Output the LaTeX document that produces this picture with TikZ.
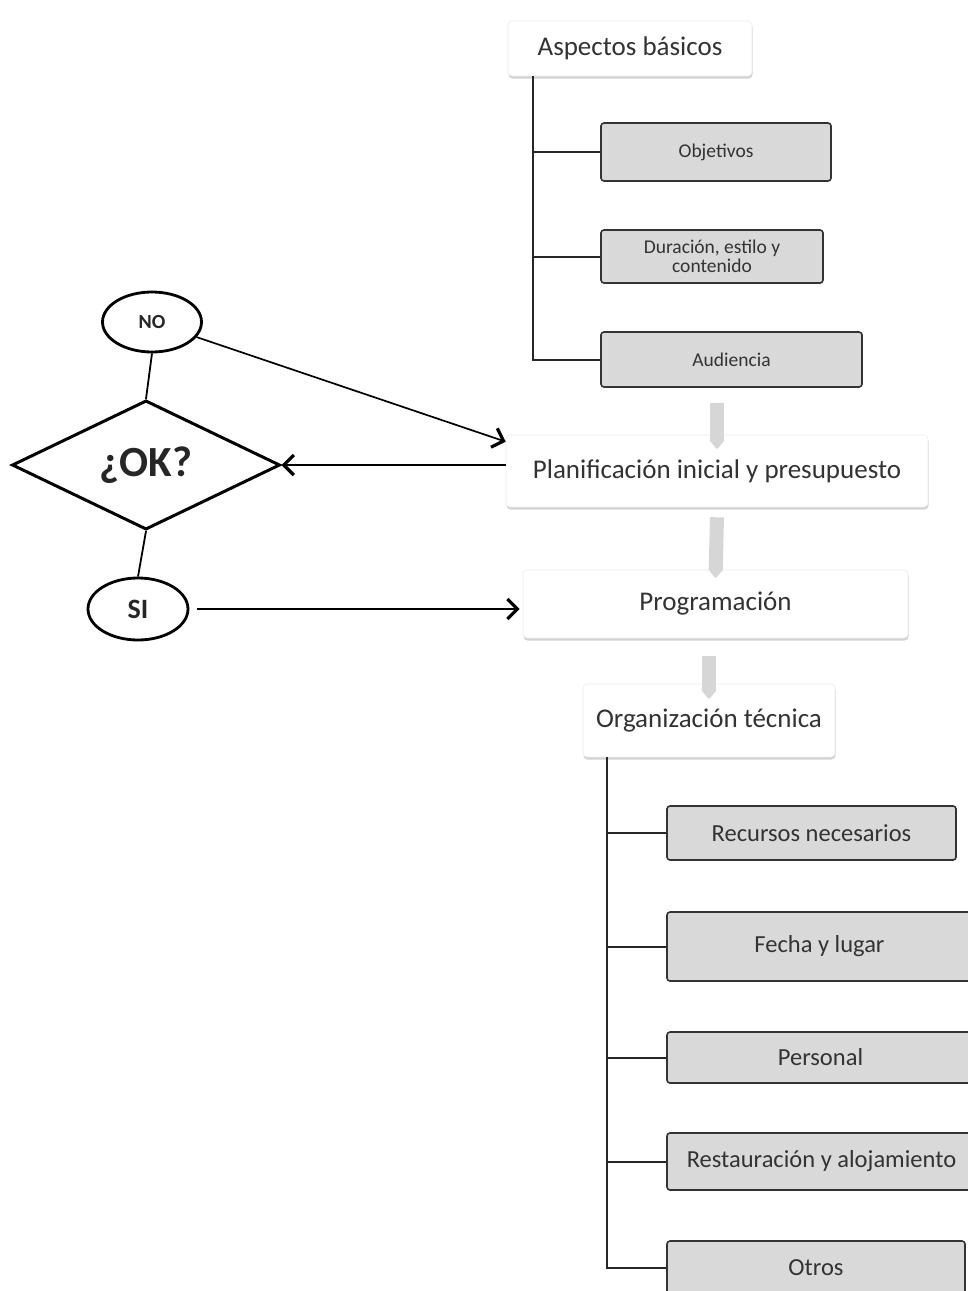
\documentclass[tikz,border=0pt]{standalone}
\usepackage{fontspec}
\setmainfont{Carlito}
\usetikzlibrary{shapes.geometric,arrows.meta,shadows}
\definecolor{boxgray}{HTML}{D9D9D9}
\definecolor{txt}{HTML}{333333}
\begin{document}
\begin{tikzpicture}[x=1pt,y=-1pt,
  mainbox/.style={draw=gray!15, fill=white, rounded corners=4pt, line width=0.6pt, text=txt,
    font=\fontsize{27}{32}\selectfont, inner sep=0pt,
    drop shadow={shadow xshift=0.5pt, shadow yshift=-2.5pt, opacity=0.35}},
  subbox/.style={draw=black!80, fill=boxgray, rounded corners=3pt, line width=1.6pt, text=txt, inner sep=0pt},
  smalltxt/.style={font=\fontsize{19.5}{19}\selectfont},
  bigtxt/.style={font=\fontsize{24.5}{28}\selectfont},
  tree/.style={line width=2pt, draw=black!85},
  arr/.style={line width=1.7pt, -{Straight Barb[length=10pt,width=20pt,line width=3.2pt]}},
  flowline/.style={line width=1.8pt},
  graybar/.style={line width=14pt, draw=gray!32, -{Triangle[length=11pt,width=17pt,round]}},
  oval/.style={ellipse, draw, line width=2.8pt, inner sep=0pt, font=\bfseries, text=black!85},
]
\clip (0,0) rectangle (968,1291);
\fill[white] (0,0) rectangle (968,1291);

% top tree
\node[mainbox, minimum width=244, minimum height=55] (asp) at (630,48.5) {Aspectos básicos};
\node[subbox, smalltxt, minimum width=230, minimum height=58] (obj) at (716,152) {Objetivos};
\node[subbox, smalltxt, minimum width=222, minimum height=53, align=center] (dur) at (712,256.5) {Duración, estilo y\\contenido};
\node[subbox, smalltxt, minimum width=261, minimum height=55] (aud) at (731.5,359.5) {Audiencia};

\draw[tree] ([xshift=25pt]asp.south west) |- (aud.west);
\draw[tree] ([xshift=25pt]asp.south west |- obj.west) -- (obj.west);
\draw[tree] ([xshift=25pt]asp.south west |- dur.west) -- (dur.west);

% main chain
\node[mainbox, minimum width=422, minimum height=72] (plan) at (717,471) {Planificación inicial y presupuesto};
\node[mainbox, minimum width=385, minimum height=68] (prog) at (715.5,604) {Programación};
\node[mainbox, minimum width=252, minimum height=73] (org) at (709,720.5) {Organización técnica};

\draw[graybar] ([yshift=-15pt]aud.south -| plan.north) -- ([yshift=-14pt]plan.north);
\draw[graybar] ([yshift=-10pt]plan.south) -- ([yshift=-8pt]prog.north);
\draw[graybar] ([yshift=-18pt]prog.south -| org.north) -- ([yshift=-15pt]org.north);

% bottom tree
\node[subbox, bigtxt, minimum width=289, minimum height=54] (rec) at (811.5,833) {Recursos necesarios};
\node[subbox, bigtxt, minimum width=305, minimum height=69] (fec) at (819.5,946.5) {Fecha y lugar};
\node[subbox, bigtxt, minimum width=307, minimum height=51] (per) at (820.5,1057.5) {Personal};
\node[subbox, bigtxt, minimum width=309, minimum height=57] (res) at (821.5,1161.5) {Restauración y alojamiento};
\node[subbox, bigtxt, minimum width=298, minimum height=54] (otr) at (816,1268) {Otros};

\draw[tree] ([xshift=24pt]org.south west) |- (otr.west);
\draw[tree] ([xshift=24pt]org.south west |- rec.west) -- (rec.west);
\draw[tree] ([xshift=24pt]org.south west |- fec.west) -- (fec.west);
\draw[tree] ([xshift=24pt]org.south west |- per.west) -- (per.west);
\draw[tree] ([xshift=24pt]org.south west |- res.west) -- (res.west);

% decision part
\node[oval, minimum width=99, minimum height=60, font=\bfseries\fontsize{20}{24}\selectfont] (no) at (152,322) {NO};
\node[diamond, draw, line width=3pt, minimum width=268, minimum height=126, inner sep=0pt,
  font=\bfseries\fontsize{43}{46}\selectfont, text=black!85] (ok) at (146,465) {¿OK?};
\node[oval, minimum width=100, minimum height=62, font=\bfseries\fontsize{28}{32}\selectfont] (si) at (138,609) {SI};

\draw[flowline] (no.south) -- (ok.north);
\draw[flowline] (ok.south) -- (si.north);
\draw[arr] (no) -- ([yshift=-7pt]plan.north west);
\draw[arr] (plan.west |- ok.east) -- (ok.east);
\draw[arr, shorten <=8pt] (si.east) -- ([xshift=-3pt]prog.west |- si.east);
\end{tikzpicture}
\end{document}
